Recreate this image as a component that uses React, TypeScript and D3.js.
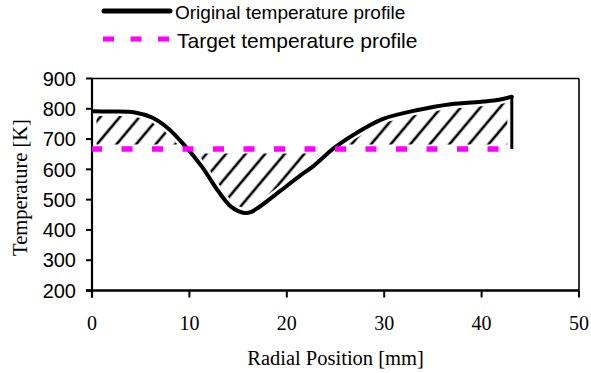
import React from "react";
import * as d3 from "d3";

const positions = [0, 2, 4.4, 6.1, 7.8, 9.5, 11.3, 13.0, 14.3, 15.5, 16.3, 17.1, 19.3, 21.4, 22.7, 24.1, 24.9, 28.2, 29.9, 33.3, 36.8, 40.2, 41.8, 43.1];
const temps = [792, 791, 788, 772, 736, 679, 608, 526, 476, 457, 459, 474, 528, 580, 610, 650, 672, 740, 767, 795, 815, 824, 830, 840];
const targetTemp = 667;
const xTicks = [0, 10, 20, 30, 40, 50];
const yTicks = [200, 300, 400, 500, 600, 700, 800, 900];
const legendLabels = ["Original temperature profile", "Target temperature profile"];

const W = 591, H = 373;
const L = 92, R = 579, T = 78.5, B = 290.5;

export default function App() {
  const x = d3.scaleLinear().domain([0, 50]).range([L, R]);
  const y = d3.scaleLinear().domain([200, 900]).range([B, T]);
  const pts = positions.map((p, i) => [p, temps[i]] as [number, number]);
  const curve = d3.curveCatmullRom.alpha(0.5);
  const line = d3.line<[number, number]>().x(d => x(d[0])).y(d => y(d[1])).curve(curve);
  const area = d3.area<[number, number]>().x(d => x(d[0])).y0(y(targetTemp)).y1(d => y(d[1])).curve(curve);
  const last = pts[pts.length - 1];
  const sans = "'Liberation Sans', Arial, sans-serif";
  const serif = "'Liberation Serif', 'Times New Roman', serif";
  return (
    <svg width={W} height={H} style={{ position: "absolute", left: 0, top: 0, background: "#fff" }}>
      <defs>
        <pattern id="hatch" patternUnits="userSpaceOnUse" width={15} height={15} patternTransform="rotate(40)">
          <line x1={2} y1={0} x2={2} y2={15} stroke="#000" strokeWidth={2.6} />
        </pattern>
        <clipPath id="plotclip"><rect x={L} y={T} width={R - L} height={B - T} /></clipPath>
      </defs>
      <rect x={0} y={0} width={W} height={H} fill="#fff" />
      <path d={area(pts) || ""} fill="url(#hatch)" />
      <path d={area(pts) || ""} fill="none" stroke="#fff" strokeWidth={9} />
      <line x1={L} y1={T} x2={R} y2={T} stroke="#000" strokeWidth={1.6} />
      <line x1={R} y1={T} x2={R} y2={B} stroke="#000" strokeWidth={1.6} />
      <line x1={L} y1={T} x2={L} y2={B + 7} stroke="#000" strokeWidth={2.2} />
      <line x1={L - 6} y1={B} x2={R} y2={B} stroke="#000" strokeWidth={2.6} />
      {yTicks.map(t => (
        <g key={"y" + t}>
          <line x1={L - 6} x2={L} y1={y(t)} y2={y(t)} stroke="#000" strokeWidth={2} />
          <text x={76} y={y(t)} dy="0.36em" textAnchor="end" fontFamily={sans} fontSize={20}>{t}</text>
        </g>
      ))}
      {xTicks.map(t => (
        <g key={"x" + t}>
          <line x1={x(t)} x2={x(t)} y1={B} y2={B + 7} stroke="#000" strokeWidth={2} />
          <text x={x(t)} y={330} textAnchor="middle" fontFamily={serif} fontSize={20}>{t}</text>
        </g>
      ))}
      <text x={(L + R) / 2} y={365} textAnchor="middle" fontFamily={serif} fontSize={20.5}>Radial Position [mm]</text>
      <text transform={`translate(27,${(T + B) / 2 + 3}) rotate(-90)`} textAnchor="middle" fontFamily={serif} fontSize={20.5}>Temperature [K]</text>
      <g clipPath="url(#plotclip)">
        <line x1={x(last[0])} x2={x(last[0])} y1={y(last[1])} y2={y(targetTemp)} stroke="#000" strokeWidth={3} />
        <path d={line(pts) || ""} fill="none" stroke="#000" strokeWidth={4} strokeLinecap="round" />
        <line x1={x(0) - 1} x2={x(last[0])} y1={y(targetTemp)} y2={y(targetTemp)} stroke="#ff00ff" strokeWidth={5.5} strokeDasharray="11 19.5" />
      </g>
      <line x1={104} x2={170} y1={11} y2={11} stroke="#000" strokeWidth={5} strokeLinecap="round" />
      <text x={175} y={19} fontFamily={sans} fontSize={19}>{legendLabels[0]}</text>
      <line x1={103} x2={170} y1={39} y2={39} stroke="#ff00ff" strokeWidth={5} strokeDasharray="11 16.5" />
      <text x={177} y={48} fontFamily={sans} fontSize={21}>{legendLabels[1]}</text>
    </svg>
  );
}
